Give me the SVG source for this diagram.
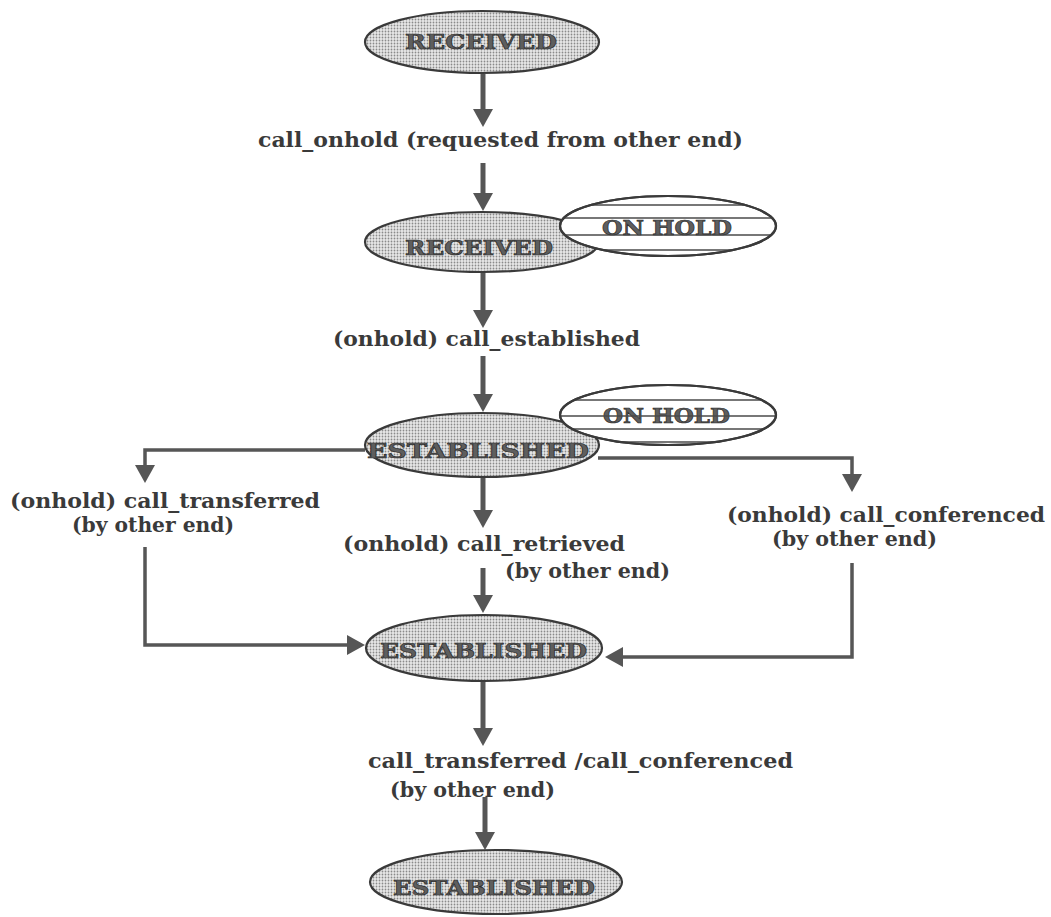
<svg xmlns="http://www.w3.org/2000/svg" width="1051" height="917" viewBox="0 0 1051 917">
  <style>
    .state { stroke: #3a3a3a; stroke-width: 2.2; fill: url(#dots); }
    .hold { stroke: #3a3a3a; stroke-width: 2.2; fill: #ffffff; }
    .stripe { stroke: #4a4a4a; stroke-width: 1.6; }
    .name { font-family: "DejaVu Serif", "Liberation Serif", serif; font-weight: bold; font-size: 21px; fill: #5e5e5e; stroke: #2c2c2c; stroke-width: 0.7; }
    .label { font-family: "DejaVu Serif", "Liberation Serif", serif; font-weight: bold; font-size: 20px; fill: #3a3a3a; }
    .flow { fill: none; stroke: #565656; stroke-width: 5; marker-end: url(#head); }
    .branch { fill: none; stroke: #565656; stroke-width: 3.5; marker-end: url(#head); }
  </style>
  <defs>
    <!-- halftone dot fill for the state ovals -->
    <pattern id="dots" width="3" height="3" patternUnits="userSpaceOnUse">
      <rect width="3" height="3" fill="#e8e8e8"/>
      <circle cx="1.5" cy="1.5" r="0.9" fill="#8a8a8a"/>
    </pattern>
    <marker id="head" markerUnits="userSpaceOnUse" markerWidth="20" markerHeight="20" refX="2" refY="10" orient="auto">
      <path d="M0,0 L18,10 L0,20 z" fill="#565656"/>
    </marker>
    <clipPath id="clipHold1"><ellipse cx="668" cy="226" rx="108" ry="30"/></clipPath>
    <clipPath id="clipHold2"><ellipse cx="668" cy="415" rx="108" ry="30"/></clipPath>
  </defs>

  <rect width="1051" height="917" fill="#ffffff"/>

  <!-- connectors -->
  <g id="connectors">
    <line class="flow" x1="483" y1="74" x2="483" y2="111"/>
    <line class="flow" x1="483" y1="163" x2="483" y2="195"/>
    <line class="flow" x1="483" y1="272" x2="483" y2="312"/>
    <line class="flow" x1="483" y1="356" x2="483" y2="396"/>
    <path class="branch" d="M365,450 H145 V467"/>
    <path class="branch" d="M145,547 V645 H349"/>
    <path class="branch" d="M598,458 H852 V476"/>
    <path class="branch" d="M852,563 V657 H621"/>
    <line class="flow" x1="483" y1="477" x2="483" y2="512"/>
    <line class="flow" x1="483" y1="568" x2="483" y2="597"/>
    <line class="flow" x1="483" y1="682" x2="483" y2="730"/>
    <line class="flow" x1="485" y1="797" x2="485" y2="834"/>
  </g>

  <!-- transition labels -->
  <g id="labels">
    <text class="label" x="258" y="147" textLength="485" lengthAdjust="spacingAndGlyphs">call_onhold (requested from other end)</text>
    <text class="label" x="333" y="346" textLength="307" lengthAdjust="spacingAndGlyphs">(onhold) call_established</text>
    <text class="label" x="10" y="508" textLength="310" lengthAdjust="spacingAndGlyphs">(onhold) call_transferred</text>
    <text class="label" x="72" y="532" textLength="162" lengthAdjust="spacingAndGlyphs">(by other end)</text>
    <text class="label" x="343" y="551" textLength="282" lengthAdjust="spacingAndGlyphs">(onhold) call_retrieved</text>
    <text class="label" x="505" y="578" textLength="165" lengthAdjust="spacingAndGlyphs">(by other end)</text>
    <text class="label" x="727" y="522" textLength="318" lengthAdjust="spacingAndGlyphs">(onhold) call_conferenced</text>
    <text class="label" x="772" y="546" textLength="165" lengthAdjust="spacingAndGlyphs">(by other end)</text>
    <text class="label" x="368" y="768" textLength="425" lengthAdjust="spacingAndGlyphs">call_transferred /call_conferenced</text>
    <text class="label" x="390" y="797" textLength="165" lengthAdjust="spacingAndGlyphs">(by other end)</text>
  </g>

  <!-- states -->
  <g id="received1">
    <ellipse class="state" cx="482" cy="42" rx="117" ry="31"/>
    <text class="name" x="405" y="49" textLength="152" lengthAdjust="spacingAndGlyphs">RECEIVED</text>
  </g>

  <g id="received2">
    <ellipse class="state" cx="482" cy="242" rx="117" ry="30"/>
    <text class="name" x="405" y="255" textLength="148" lengthAdjust="spacingAndGlyphs">RECEIVED</text>
  </g>

  <g id="onhold1">
    <ellipse class="hold" cx="668" cy="226" rx="108" ry="30"/>
    <g clip-path="url(#clipHold1)">
      <line class="stripe" x1="555" y1="205" x2="780" y2="205"/>
      <line class="stripe" x1="555" y1="218" x2="780" y2="218"/>
      <line class="stripe" x1="555" y1="235" x2="780" y2="235"/>
      <line class="stripe" x1="555" y1="250" x2="780" y2="250"/>
    </g>
    <text class="name" x="602" y="235" textLength="130" lengthAdjust="spacingAndGlyphs">ON HOLD</text>
    <ellipse cx="668" cy="226" rx="108" ry="30" fill="none" stroke="#3a3a3a" stroke-width="2.2"/>
  </g>

  <g id="established1">
    <ellipse class="state" cx="482" cy="445" rx="117" ry="32"/>
    <text class="name" x="367" y="458" textLength="222" lengthAdjust="spacingAndGlyphs">ESTABLISHED</text>
  </g>

  <g id="onhold2">
    <ellipse class="hold" cx="668" cy="415" rx="108" ry="30"/>
    <g clip-path="url(#clipHold2)">
      <line class="stripe" x1="555" y1="400" x2="780" y2="400"/>
      <line class="stripe" x1="555" y1="429" x2="780" y2="429"/>
      <line class="stripe" x1="555" y1="442" x2="780" y2="442"/>
    </g>
    <text class="name" x="603" y="423" textLength="127" lengthAdjust="spacingAndGlyphs">ON HOLD</text>
    <line class="stripe" x1="561" y1="416" x2="775" y2="416"/>
    <ellipse cx="668" cy="415" rx="108" ry="30" fill="none" stroke="#3a3a3a" stroke-width="2.2"/>
  </g>

  <g id="established2">
    <ellipse class="state" cx="484" cy="648" rx="118" ry="33"/>
    <text class="name" x="380" y="658" textLength="207" lengthAdjust="spacingAndGlyphs">ESTABLISHED</text>
  </g>

  <g id="established3">
    <ellipse class="state" cx="496" cy="882" rx="126" ry="32"/>
    <text class="name" x="393" y="895" textLength="202" lengthAdjust="spacingAndGlyphs">ESTABLISHED</text>
  </g>
</svg>
